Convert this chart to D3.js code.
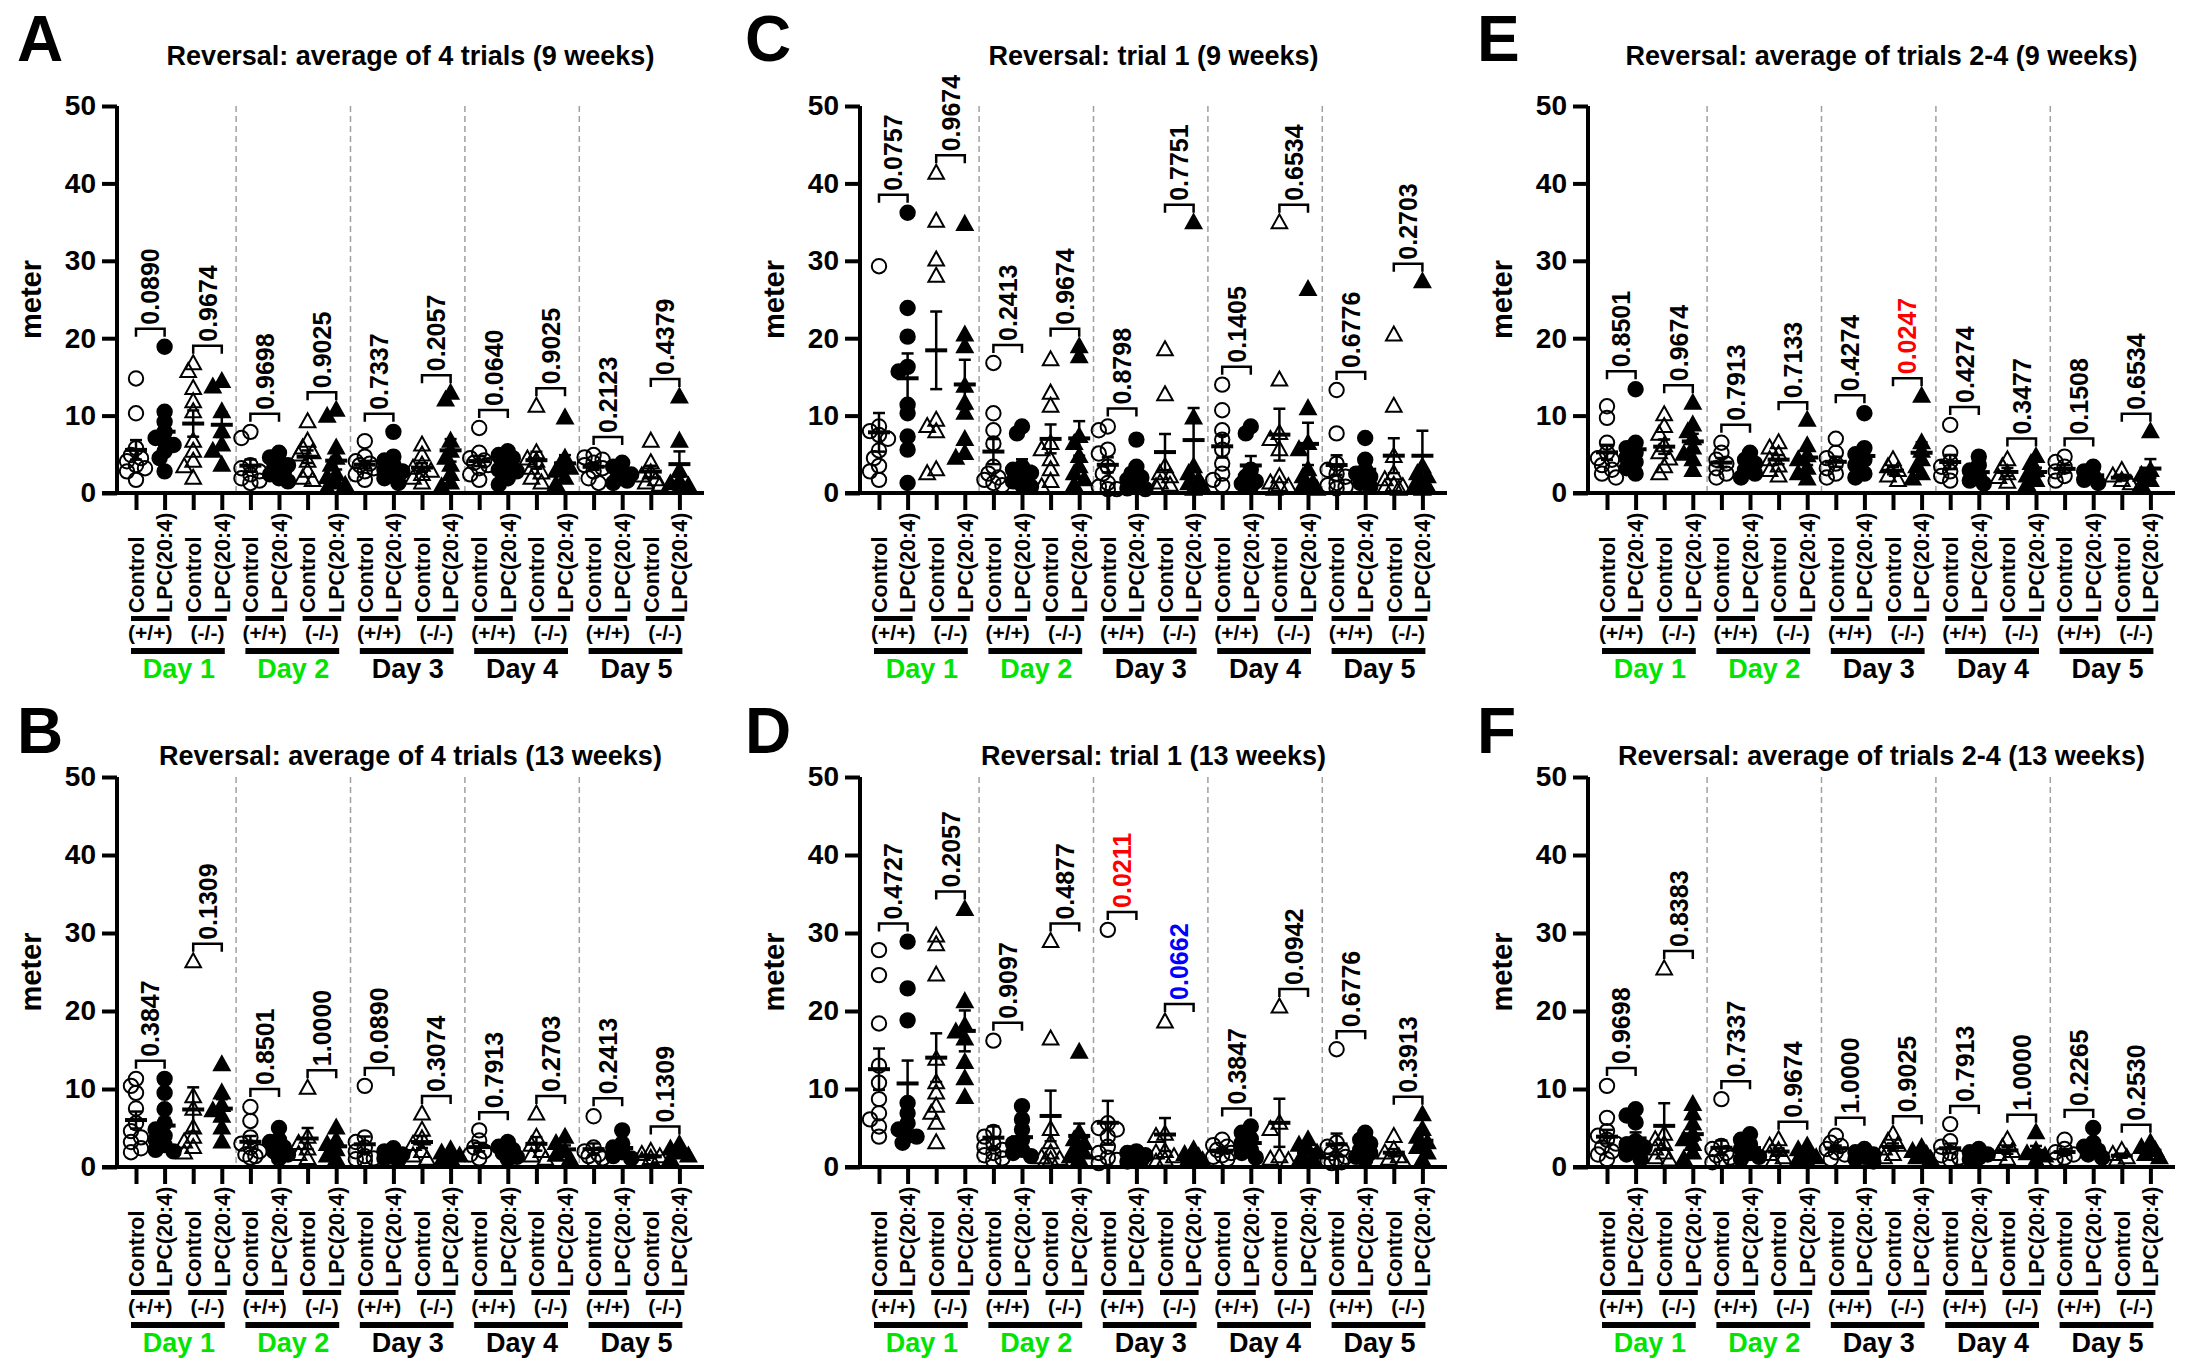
<!DOCTYPE html>
<html>
<head>
<meta charset="utf-8">
<script src="https://cdn.jsdelivr.net/npm/d3@7"></script>
<style>
  body { margin: 0; background: #fff; }
  svg { display: block; }
  text { font-family: "Liberation Sans", Arial, sans-serif; font-weight: bold; }
</style>
</head>
<body>
<div id="chart"></div>
<script>
const panelLetters = ["A", "B", "C", "D", "E", "F"]
const panelTitles = [
  "Reversal: average of 4 trials (9 weeks)",
  "Reversal: average of 4 trials (13 weeks)",
  "Reversal: trial 1 (9 weeks)",
  "Reversal: trial 1 (13 weeks)",
  "Reversal: average of trials 2-4 (9 weeks)",
  "Reversal: average of trials 2-4 (13 weeks)"
]
const dayLabels = ["Day 1", "Day 2", "Day 3", "Day 4", "Day 5"]
const greenDays = ["Day 1", "Day 2"]
const groupLabels = ["Control", "LPC(20:4)", "Control", "LPC(20:4)"]
const genotypeLabels = ["(+/+)", "(-/-)"]
const yTicks = [0, 10, 20, 30, 40, 50]

// one array per column: day 1..5 x [Control +/+, LPC +/+, Control -/-, LPC -/-]
const valuesA = [
  [14.8,10.3,5.8,4.9,4.5,4.1,3.6,3.2,2.8,1.7],
  [18.9,10.5,9.2,7.9,7.1,6.7,6.2,5.4,4.5,2.8],
  [16.7,15.7,13.5,11.8,10.5,6.7,5.4,4.1,3.4,1.9],
  [14.4,13.7,10.5,7.9,6.2,5.4,3.6],
  [7.9,7.1,3.6,3.2,2.8,2.4,1.9,1.6,1.3],
  [5.2,4.6,4.1,3.6,3.2,2.8,2.4,1.9,1.5],
  [9.2,6.7,5.8,5.2,4.9,4.1,2.8,1.9,1.6],
  [10.7,9.9,5.8,4.5,3.6,2.4,2.0,1.3,1.0,0.6],
  [6.7,4.7,4.1,3.8,3.6,3.2,2.8,2.4,1.7],
  [7.9,4.7,4.2,3.6,3.0,2.8,2.2,1.9,1.3],
  [6.2,4.9,3.6,3.2,2.8,2.4,1.9,1.3],
  [12.9,12.0,6.7,5.4,4.5,3.6,2.4,1.3,0.8],
  [8.4,5.2,4.5,4.2,3.9,3.6,3.2,2.4,1.7],
  [5.4,4.9,4.5,3.6,3.0,2.8,1.9,1.1],
  [11.2,5.2,4.4,4.1,3.2,2.6,1.9,1.3],
  [9.7,4.5,3.6,3.2,2.8,1.9,1.1],
  [4.9,4.6,4.3,3.9,3.6,3.2,2.8,1.9,1.3],
  [3.9,3.4,2.8,2.4,1.9,1.6,1.3],
  [6.7,3.9,2.6,2.2,1.7,1.3,1.0],
  [12.4,6.7,2.8,1.5,1.2,0.9,0.6]
]
const valuesB = [
  [11.3,10.4,9.5,7.5,5.6,4.6,3.8,3.2,2.4,1.9],
  [11.3,9.5,7.4,5.6,4.8,4.0,3.5,2.8,2.2,2.0],
  [26.3,9.0,7.4,5.0,3.8,3.2,2.5,1.8],
  [13.1,9.5,7.9,7.2,6.5,5.0,3.2],
  [7.7,5.9,3.8,3.0,2.5,2.0,1.6,1.4,1.2],
  [5.0,3.5,3.2,2.5,2.0,1.6,1.1],
  [10.1,3.8,3.0,2.3,1.6,1.1],
  [5.0,3.4,2.9,2.2,1.4,1.0],
  [10.4,3.8,3.2,2.5,2.0,1.4,1.1,1.0,0.8],
  [2.4,2.0,1.6,1.3,1.1,0.9],
  [6.8,4.7,3.6,2.9,2.0,1.4,1.0],
  [2.2,1.8,1.4,1.1,0.8],
  [4.7,3.4,2.5,2.0,1.6,1.1],
  [3.2,2.6,2.2,1.8,1.3,1.0],
  [6.8,3.8,2.8,2.0,1.4,1.0],
  [3.8,3.0,2.0,1.5,1.0],
  [6.5,2.5,2.0,1.6,1.4,1.1,0.9],
  [4.7,3.0,2.5,1.9,1.4,1.1],
  [2.0,1.6,1.3,1.1,0.8],
  [2.9,2.3,1.8,1.4,1.0]
]
const valuesC = [
  [29.3,8.6,8.0,7.5,7.0,5.5,4.5,3.5,2.8,1.7],
  [36.2,23.9,20.2,16.3,15.7,11.4,10.3,7.3,5.6,1.3],
  [41.3,35.1,30.1,28.0,9.4,8.6,7.9,3.0,2.5],
  [34.7,20.4,18.9,13.8,11.6,10.3,6.9,5.1,4.5],
  [16.8,10.3,8.1,6.4,3.4,2.5,2.0,1.7,1.3,1.0],
  [8.6,7.7,3.4,3.0,2.6,2.1,1.5,1.0,0.8],
  [17.2,12.9,11.2,6.4,5.6,4.3,3.0,1.5,0.8],
  [18.9,17.6,7.3,6.4,4.7,3.4,2.5,1.7,1.0],
  [8.6,8.1,5.6,5.1,3.4,2.5,1.3,0.8,0.5,0.5],
  [6.9,3.4,2.5,2.0,1.7,1.3,0.6,0.5],
  [18.5,12.7,3.4,2.5,2.1,1.3,1.0,0.8],
  [34.9,9.7,3.4,2.5,1.7,1.2,0.8,0.5],
  [14.0,10.7,8.1,6.9,5.6,3.8,2.5,1.7,1.0],
  [8.6,7.7,3.0,2.1,1.5,1.2,0.8],
  [34.9,14.6,7.7,6.9,5.6,2.1,1.3,1.0,0.8,0.5],
  [26.3,10.9,6.4,5.6,3.0,2.1,1.3,1.0,0.5],
  [13.3,7.7,3.8,3.0,2.5,2.1,1.3,1.0,0.8,0.6],
  [7.1,4.3,3.0,2.5,2.1,1.3,0.8],
  [20.4,11.2,4.7,2.5,1.7,1.0,0.8,0.6,0.5],
  [27.3,3.4,2.5,2.1,1.3,0.8,0.6,0.5]
]
const valuesD = [
  [27.8,24.6,18.4,13.0,10.8,8.7,6.9,6.1,5.2,3.9],
  [28.9,22.9,18.8,8.2,6.9,5.6,4.8,4.0,3.9,3.1],
  [29.6,28.5,24.6,13.8,10.8,9.5,7.8,6.9,5.6,3.1],
  [33.0,21.2,18.1,17.3,16.4,13.4,11.3,8.9],
  [16.2,4.5,3.9,3.0,2.6,2.2,1.8,1.5,1.1,0.8],
  [7.8,6.1,4.8,3.5,3.0,2.2,1.8,1.4],
  [28.9,16.4,4.8,3.1,1.8,1.2,1.0,0.9,0.8],
  [14.7,4.4,3.5,3.0,2.2,1.8,1.3,1.0],
  [30.4,5.6,5.0,4.8,3.9,2.6,1.8,1.2,0.9,0.5],
  [2.0,1.8,1.5,1.3,1.1,0.9,0.7],
  [18.6,4.2,3.9,2.0,1.8,1.3,0.9,0.6],
  [2.2,1.6,1.3,1.0,0.8,0.6],
  [3.5,2.8,2.6,2.2,1.8,1.5,1.3,1.0],
  [5.2,4.4,3.6,3.1,2.2,1.8,1.2],
  [20.5,5.6,4.8,1.3,1.0,0.8],
  [3.5,2.8,2.2,1.8,1.3,1.0,0.7],
  [15.1,3.1,2.6,2.2,1.8,1.3,1.0,0.8,0.6,0.5],
  [4.4,3.5,3.0,2.2,1.8,1.3,0.9],
  [3.9,2.2,1.8,1.3,1.0,0.8],
  [6.7,4.8,3.8,3.1,2.5,1.8,0.9]
]
const valuesE = [
  [11.2,9.7,6.5,5.2,4.5,4.3,3.6,3.0,2.5,2.0],
  [13.4,6.5,5.8,5.2,4.6,4.0,3.2,2.5],
  [10.1,8.6,7.6,6.1,5.2,4.4,3.4,2.5],
  [11.6,8.8,7.9,7.0,5.8,5.0,4.3,2.9],
  [6.5,5.2,4.3,3.8,3.2,2.5,2.0],
  [5.2,4.3,3.8,3.0,2.5,2.0],
  [6.5,5.8,5.0,4.3,3.5,2.9,2.2],
  [9.4,6.1,4.8,4.3,3.2,2.5,1.8],
  [7.0,5.2,4.5,3.8,3.2,2.5,2.0],
  [10.3,5.8,5.0,4.3,3.6,2.5,2.0],
  [4.3,3.4,2.9,2.2,1.6],
  [12.5,6.5,5.4,4.3,3.4,2.5,1.8],
  [8.8,5.2,4.0,3.4,2.8,2.2,1.6],
  [4.7,3.6,2.9,2.2,1.6,1.2],
  [4.3,3.4,2.5,2.0,1.4],
  [4.7,3.8,2.9,2.2,1.6,1.1],
  [4.7,4.0,3.4,2.8,2.2,1.6],
  [3.4,2.8,2.2,1.7,1.3],
  [2.9,2.2,1.6,1.2],
  [7.9,2.9,2.3,1.6,1.1]
]
const valuesF = [
  [10.4,6.3,4.6,4.0,3.5,3.0,2.5,2.0,1.6,1.0],
  [7.4,6.6,5.7,3.3,2.9,2.5,2.0,1.6,1.0],
  [25.4,4.2,3.5,2.9,2.3,1.8,1.2,0.9],
  [8.0,6.8,5.5,4.2,3.5,2.9,1.8,1.0],
  [8.7,2.7,2.3,1.8,1.5,1.2,0.9,0.6],
  [4.2,3.5,2.9,2.3,1.8,1.3,1.0],
  [3.5,2.7,2.1,1.6,1.2,0.8],
  [2.7,2.2,1.6,1.2,1.0,0.7],
  [4.0,3.1,2.7,2.3,1.9,1.6,1.0],
  [2.3,1.9,1.6,1.3,1.0,0.7],
  [4.2,3.3,2.8,2.3,1.6,1.2],
  [2.5,2.0,1.6,1.2,1.0],
  [5.5,3.3,2.6,1.8,1.5,1.2,0.9],
  [2.3,1.9,1.6,1.2,1.0],
  [3.5,2.5,2.0,1.6,1.0],
  [4.4,2.1,1.7,1.4,0.8],
  [3.5,2.3,1.9,1.6,1.2,1.0],
  [5.0,3.1,2.6,2.1,1.6,1.2],
  [2.1,1.6,1.2,0.9],
  [3.1,2.5,2.1,1.6,1.2]
]

// p-values, per day: [+/+ comparison, -/- comparison]
const pA = ["0.0890","0.9674","0.9698","0.9025","0.7337","0.2057","0.0640","0.9025","0.2123","0.4379"]
const pB = ["0.3847","0.1309","0.8501","1.0000","0.0890","0.3074","0.7913","0.2703","0.2413","0.1309"]
const pC = ["0.0757","0.9674","0.2413","0.9674","0.8798","0.7751","0.1405","0.6534","0.6776","0.2703"]
const pD = ["0.4727","0.2057","0.9097","0.4877","0.0211","0.0662","0.3847","0.0942","0.6776","0.3913"]
const pE = ["0.8501","0.9674","0.7913","0.7133","0.4274","0.0247","0.4274","0.3477","0.1508","0.6534"]
const pF = ["0.9698","0.8383","0.7337","0.9674","1.0000","0.9025","0.7913","1.0000","0.2265","0.2530"]
const pHighlight = { D: { 4: "#ff0000", 5: "#0000ff" }, E: { 5: "#ff0000" } }

const allValues = [valuesA, valuesB, valuesC, valuesD, valuesE, valuesF]
const allP = [pA, pB, pC, pD, pE, pF]

const width = 2190
const height = 1369
const green = "#00e400"

const colX = [117, 860, 1588]
const letterX = [17, 745, 1477]
const rows = [
  { top: 106, zero: 493, title: 65, letter: 61 },
  { top: 777, zero: 1167, title: 765, letter: 753 }
]
const plotW = 587
const step = 28.6

const svg = d3.select("#chart")
  .append("svg")
  .attr("width", width)
  .attr("height", height)

const triangle = "M0,-8.5L7.8,5.5L-7.8,5.5Z"

// spread overlapping points sideways a little, like Prism's scatter
function spread(vals, yScale) {
  const sorted = vals.slice().sort((a, b) => b - a)
  const placed = []
  const offsets = [0, -5, 5, -9, 9]
  sorted.forEach(v => {
    const y = yScale(v)
    let best = 0, bestD = -1
    for (const o of offsets) {
      let d = Infinity
      placed.forEach(p => { d = Math.min(d, Math.hypot(p.dx - o, p.y - y)) })
      if (d >= 8) { best = o; bestD = d; break }
      if (d > bestD) { bestD = d; best = o }
    }
    placed.push({ v: v, y: y, dx: best })
  })
  return placed
}

function drawPanel(i) {
  const col = Math.floor(i / 2)
  const row = rows[i % 2]
  const ax = colX[col]
  const values = allValues[i]
  const pvals = allP[i]
  const letter = panelLetters[i]

  const yScale = d3.scaleLinear().domain([0, 50]).range([row.zero, row.top])
  const xScale = d3.scalePoint()
    .domain(d3.range(20))
    .range([ax + 19, ax + 19 + 19 * step])

  const g = svg.append("g").attr("class", "panel-" + letter)

  // panel letter + title
  g.append("text")
    .attr("x", letterX[col])
    .attr("y", row.letter)
    .attr("font-size", "64px")
    .text(letter)

  g.append("text")
    .attr("x", ax + plotW / 2)
    .attr("y", row.title)
    .attr("text-anchor", "middle")
    .attr("font-size", "27px")
    .text(panelTitles[i])

  // day separators
  d3.range(1, 5).forEach(k => {
    g.append("line")
      .attr("x1", (xScale(4 * k - 1) + xScale(4 * k)) / 2)
      .attr("x2", (xScale(4 * k - 1) + xScale(4 * k)) / 2)
      .attr("y1", yScale(50))
      .attr("y2", yScale(0))
      .attr("stroke", "#a0a0a0")
      .attr("stroke-width", 1.5)
      .attr("stroke-dasharray", "6,4")
  })

  // y axis
  const yAxis = d3.axisLeft(yScale).tickValues(yTicks).tickSize(15).tickPadding(6)
  const ya = g.append("g")
    .attr("transform", `translate(${ax},0)`)
    .call(yAxis)
  ya.select(".domain").attr("stroke", "#000").attr("stroke-width", 4).attr("d", `M0,${yScale(50)}V${yScale(0)}`)
  ya.selectAll(".tick line").attr("stroke", "#000").attr("stroke-width", 4)
  ya.selectAll(".tick text")
    .attr("font-size", "28px")
    .attr("font-family", "Liberation Sans, Arial, sans-serif")
    .attr("font-weight", "bold")
    .attr("fill", "#000")

  g.append("text")
    .attr("transform", `translate(${ax - 86},${(yScale(0) + yScale(50)) / 2}) rotate(-90)`)
    .attr("text-anchor", "middle")
    .attr("dy", "0.35em")
    .attr("font-size", "29px")
    .text("meter")

  // x axis
  const xAxis = d3.axisBottom(xScale).tickSize(17).tickFormat("")
  const xa = g.append("g")
    .attr("transform", `translate(0,${row.zero})`)
    .call(xAxis)
  xa.select(".domain").attr("stroke", "#000").attr("stroke-width", 4).attr("d", `M${ax - 15},0H${ax + plotW}`)
  xa.selectAll(".tick line").attr("stroke", "#000").attr("stroke-width", 4)

  // group labels
  d3.range(20).forEach(j => {
    g.append("text")
      .attr("transform", `translate(${xScale(j)},${row.zero + 120}) rotate(-90)`)
      .attr("dy", "0.36em")
      .attr("font-size", "21.5px")
      .text(groupLabels[j % 4])
  })

  d3.range(10).forEach(k => {
    const x1 = xScale(2 * k), x2 = xScale(2 * k + 1)
    g.append("rect")
      .attr("x", x1 - 5).attr("width", x2 - x1 + 10)
      .attr("y", row.zero + 123).attr("height", 5)
      .attr("fill", "#000")
    g.append("text")
      .attr("x", (x1 + x2) / 2)
      .attr("y", row.zero + 147)
      .attr("text-anchor", "middle")
      .attr("font-size", "21px")
      .text(genotypeLabels[k % 2])
  })

  dayLabels.forEach((day, k) => {
    const x1 = xScale(4 * k), x2 = xScale(4 * k + 3)
    g.append("rect")
      .attr("x", x1 - 5).attr("width", x2 - x1 + 8)
      .attr("y", row.zero + 155).attr("height", 6)
      .attr("fill", "#000")
    g.append("text")
      .attr("x", (x1 + x2) / 2)
      .attr("y", row.zero + 185)
      .attr("text-anchor", "middle")
      .attr("font-size", "27px")
      .attr("fill", greenDays.includes(day) ? green : "#000")
      .text(day)
  })

  // points
  values.forEach((vals, j) => {
    const x = xScale(j)
    const filled = j % 2 === 1
    const isTri = j % 4 >= 2
    const pts = spread(vals, yScale)
    const sel = g.append("g").attr("class", "col-" + j)
    if (isTri) {
      sel.selectAll("path")
        .data(pts)
        .join("path")
        .attr("d", triangle)
        .attr("transform", d => `translate(${x + d.dx},${d.y})`)
        .attr("fill", filled ? "#000" : "none")
        .attr("stroke", "#000")
        .attr("stroke-width", 2)
    } else {
      sel.selectAll("circle")
        .data(pts)
        .join("circle")
        .attr("cx", d => x + d.dx)
        .attr("cy", d => d.y)
        .attr("r", 7.2)
        .attr("fill", filled ? "#000" : "none")
        .attr("stroke", "#000")
        .attr("stroke-width", 2)
    }

    // mean +/- SEM
    const m = d3.mean(vals)
    const sem = d3.deviation(vals) / Math.sqrt(vals.length)
    const lo = Math.max(0, m - sem)
    const eg = g.append("g").attr("stroke", "#000")
    eg.append("line")
      .attr("x1", x).attr("x2", x)
      .attr("y1", yScale(m + sem)).attr("y2", yScale(lo))
      .attr("stroke-width", 2.5)
    eg.append("line")
      .attr("x1", x - 6).attr("x2", x + 6)
      .attr("y1", yScale(m + sem)).attr("y2", yScale(m + sem))
      .attr("stroke-width", 2.5)
    eg.append("line")
      .attr("x1", x - 6).attr("x2", x + 6)
      .attr("y1", yScale(lo)).attr("y2", yScale(lo))
      .attr("stroke-width", 2.5)
    eg.append("line")
      .attr("x1", x - 11).attr("x2", x + 11)
      .attr("y1", yScale(m)).attr("y2", yScale(m))
      .attr("stroke-width", 4)
  })

  // p-value brackets
  pvals.forEach((p, k) => {
    const x1 = xScale(2 * k), x2 = xScale(2 * k + 1)
    const top = d3.max(values[2 * k].concat(values[2 * k + 1]))
    const yb = yScale(top) - 18
    const color = (pHighlight[letter] && pHighlight[letter][k]) || "#000"
    g.append("path")
      .attr("d", `M${x1},${yb + 8}V${yb}H${x2}V${yb + 8}`)
      .attr("fill", "none")
      .attr("stroke", "#000")
      .attr("stroke-width", 2.5)
    g.append("text")
      .attr("transform", `translate(${(x1 + x2) / 2},${yb - 4}) rotate(-90)`)
      .attr("dy", "0.36em")
      .attr("font-size", "25px")
      .attr("fill", color)
      .text(p)
  })
}

d3.range(6).forEach(drawPanel)
</script>
</body>
</html>
